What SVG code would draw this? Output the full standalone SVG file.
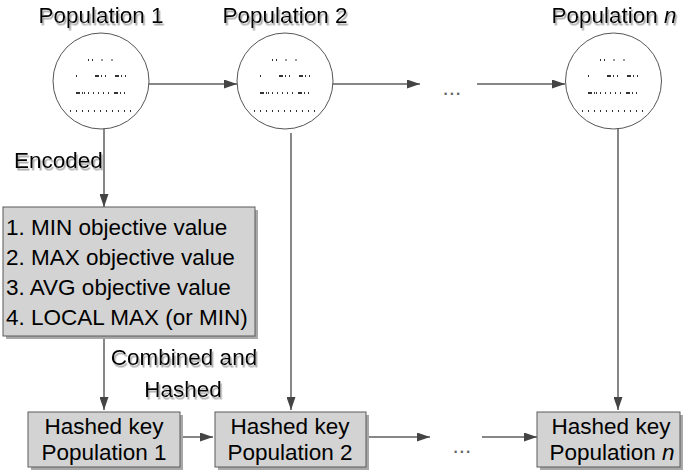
<svg xmlns="http://www.w3.org/2000/svg" xmlns:xlink="http://www.w3.org/1999/xlink" width="691" height="474" viewBox="0 0 691 474">
  <style>
    text { font-family: "Liberation Sans", Arial, sans-serif; font-size: 22.5px; fill: #000; }
    .lbl { filter: url(#tshadow); }
    .mid { text-anchor: middle; }
    .pop { fill: #fff; stroke: #555; stroke-width: 1; }
    .box { fill: #d3d3d3; stroke: #5a5a5a; stroke-width: 1; }
    .boxshadow { fill: #a8a8a8; }
    .edge { fill: none; stroke: #5f5f5f; stroke-width: 1.5; marker-end: url(#arrow); }
    .dots { fill: #333; }
    .ell { fill: #666; }
  </style>
  <defs>
    <filter id="tshadow" x="-10%" y="-20%" width="130%" height="160%">
      <feDropShadow dx="1.5" dy="2.5" stdDeviation="0.5" flood-color="#a8a8a8" flood-opacity="1"/>
    </filter>
    <marker id="arrow" markerWidth="13" markerHeight="9" refX="13" refY="4.5" orient="auto" markerUnits="userSpaceOnUse">
      <path d="M0,0 L13,4.5 L0,9 Z" fill="#444"/>
    </marker>
    <!-- individuals drawn inside a population circle, relative to its centre -->
    <g id="individuals" class="dots">
      <rect x="-13" y="-22" width="1" height="2"/>
      <rect x="-9" y="-22" width="1" height="2"/>
      <rect x="0.5" y="-22" width="1" height="2"/>
      <rect x="10.5" y="-22" width="1" height="2"/>

      <rect x="-25" y="-6" width="1" height="2"/>
      <rect x="-6" y="-6" width="4" height="2"/>
      <rect x="0" y="-6" width="1" height="2"/>
      <rect x="4" y="-6" width="1" height="2"/>
      <rect x="14" y="-6" width="4" height="2"/>
      <rect x="20" y="-6" width="1" height="2"/>
      <rect x="24" y="-6" width="1" height="2"/>

      <rect x="-25" y="11" width="4" height="2"/>
      <rect x="-19" y="11" width="1" height="2"/>
      <rect x="-17" y="11" width="1" height="2"/>
      <rect x="-13" y="11" width="1" height="2"/>
      <rect x="-8" y="11" width="1" height="2"/>
      <rect x="-3" y="11" width="1" height="2"/>
      <rect x="2" y="11" width="1" height="2"/>
      <rect x="7" y="11" width="1" height="2"/>
      <rect x="13" y="11" width="4" height="2"/>
      <rect x="19" y="11" width="1" height="2"/>
      <rect x="23" y="11" width="1" height="2"/>

      <rect x="-31" y="29" width="1" height="2"/>
      <rect x="-25" y="29" width="1" height="2"/>
      <rect x="-19" y="29" width="1" height="2"/>
      <rect x="-13" y="29" width="1" height="2"/>
      <rect x="-7" y="29" width="1" height="2"/>
      <rect x="-1" y="29" width="1" height="2"/>
      <rect x="5" y="29" width="1" height="2"/>
      <rect x="11" y="29" width="1" height="2"/>
      <rect x="17" y="29" width="1" height="2"/>
      <rect x="23" y="29" width="1" height="2"/>
      <rect x="29" y="29" width="1" height="2"/>
    </g>
  </defs>

  <rect width="691" height="474" fill="#fff"/>

  <!-- connectors -->
  <g id="connectors">
    <path class="edge" d="M149,84 H237"/>
    <path class="edge" d="M333,84 H420"/>
    <path class="edge" d="M477,84 H565"/>
    <path class="edge" d="M104,128 V207"/>
    <path class="edge" d="M291,133 V410"/>
    <path class="edge" d="M618,129 V410"/>
    <path class="edge" d="M104,336 V410"/>
    <path class="edge" d="M180,437 H213"/>
    <path class="edge" d="M366,437 H430"/>
    <path class="edge" d="M482,437 H537"/>
    <text class="ell" x="452" y="95" text-anchor="middle">...</text>
    <text class="ell" x="462" y="453" text-anchor="middle">...</text>
    <text class="lbl" x="14" y="168">Encoded</text>
    <text class="lbl mid" x="184" y="365">Combined and</text>
    <text class="lbl mid" x="183" y="397">Hashed</text>
  </g>

  <!-- populations -->
  <g id="population-1">
    <text class="lbl mid" x="101" y="23">Population 1</text>
    <circle class="pop" cx="101" cy="81" r="48"/>
    <use xlink:href="#individuals" x="101" y="81"/>
  </g>
  <g id="population-2">
    <text class="lbl mid" x="285" y="23">Population 2</text>
    <circle class="pop" cx="285" cy="81" r="48"/>
    <use xlink:href="#individuals" x="285" y="81"/>
  </g>
  <g id="population-n">
    <text class="lbl mid" x="614" y="23">Population <tspan font-style="italic">n</tspan></text>
    <circle class="pop" cx="613.5" cy="81" r="48"/>
    <use xlink:href="#individuals" x="613" y="81"/>
  </g>

  <!-- encoded statistics -->
  <g id="encoding">
    <rect class="boxshadow" x="6" y="210" width="252" height="129"/>
    <rect class="box" x="3" y="207" width="252" height="129"/>
    <text x="6" y="235">1. MIN objective value</text>
    <text x="6" y="265">2. MAX objective value</text>
    <text x="6" y="295">3. AVG objective value</text>
    <text x="6" y="325">4. LOCAL MAX (or MIN)</text>
  </g>

  <!-- hashed keys -->
  <g id="hashed-1">
    <rect class="boxshadow" x="31" y="415" width="152" height="55"/>
    <rect class="box" x="28" y="412" width="152" height="55"/>
    <text class="mid" x="104" y="434">Hashed key</text>
    <text class="mid" x="104" y="460">Population 1</text>
  </g>
  <g id="hashed-2">
    <rect class="boxshadow" x="218" y="415" width="151" height="55"/>
    <rect class="box" x="215" y="412" width="151" height="55"/>
    <text class="mid" x="290" y="434">Hashed key</text>
    <text class="mid" x="290" y="460">Population 2</text>
  </g>
  <g id="hashed-n">
    <rect class="boxshadow" x="540" y="415" width="143" height="55"/>
    <rect class="box" x="537" y="412" width="143" height="55"/>
    <text class="mid" x="611" y="434">Hashed key</text>
    <text class="mid" x="612" y="460">Population <tspan font-style="italic">n</tspan></text>
  </g>
</svg>
